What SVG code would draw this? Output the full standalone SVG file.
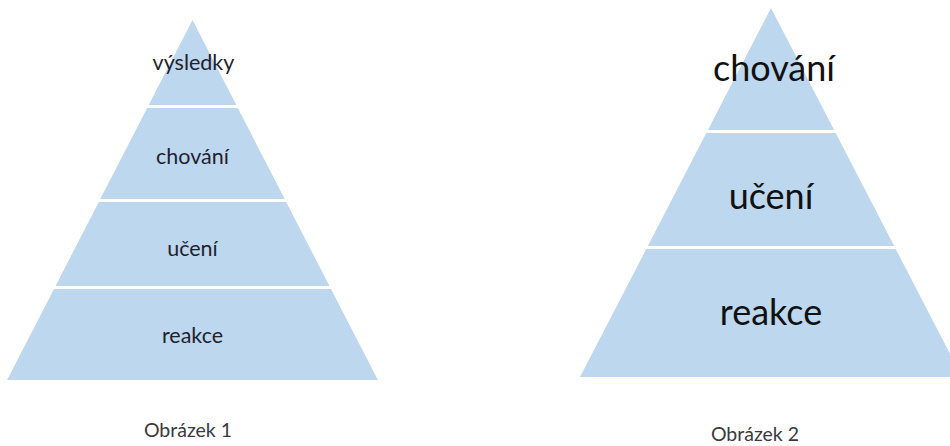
<svg xmlns="http://www.w3.org/2000/svg" width="950" height="446" viewBox="0 0 950 446">
<style>
.tier{fill:#BDD7EE}
.t1{font-family:Lato,"Open Sans","Noto Sans",sans-serif;font-size:21.5px;fill:#1f1f2e;text-anchor:middle}
.t2{font-family:Lato,"Open Sans","Noto Sans",sans-serif;font-size:36px;fill:#111111;text-anchor:middle}
.cap{font-family:Lato,"Open Sans","Noto Sans",sans-serif;font-size:19.5px;fill:#3a3a40;text-anchor:middle}
</style>
<rect width="950" height="446" fill="#ffffff"/>
<g id="pyramid1">
<g id="p1-vysledky"><polygon class="tier" points="192.5,20 236.3,105 148.7,105"/><text class="t1" x="193.5" y="70">výsledky</text></g>
<g id="p1-chovani"><polygon class="tier" points="147.2,108 237.8,108 284.7,199 100.3,199"/><text class="t1" x="192.5" y="164">chování</text></g>
<g id="p1-uceni"><polygon class="tier" points="98.8,202 286.2,202 329.5,286 55.5,286"/><text class="t1" x="192.5" y="256">učení</text></g>
<g id="p1-reakce"><polygon class="tier" points="54,289 331,289 377.9,380 7.1,380"/><text class="t1" x="192.5" y="343">reakce</text></g>
</g>
<g id="pyramid2">
<g id="p2-chovani"><polygon class="tier" points="771,8 834.1,130 707.9,130"/><text class="t2" x="774" y="81">chování</text></g>
<g id="p2-uceni"><polygon class="tier" points="706.3,133 835.7,133 894.2,246 647.8,246"/><text class="t2" x="771" y="209">učení</text></g>
<g id="p2-reakce"><polygon class="tier" points="646.3,249 895.7,249 962,377 580,377"/><text class="t2" x="771" y="325">reakce</text></g>
</g>
<g id="captions">
<text class="cap" x="188" y="437">Obrázek 1</text>
<text class="cap" x="755" y="441">Obrázek 2</text>
</g>
<g id="connectors"/>
</svg>
